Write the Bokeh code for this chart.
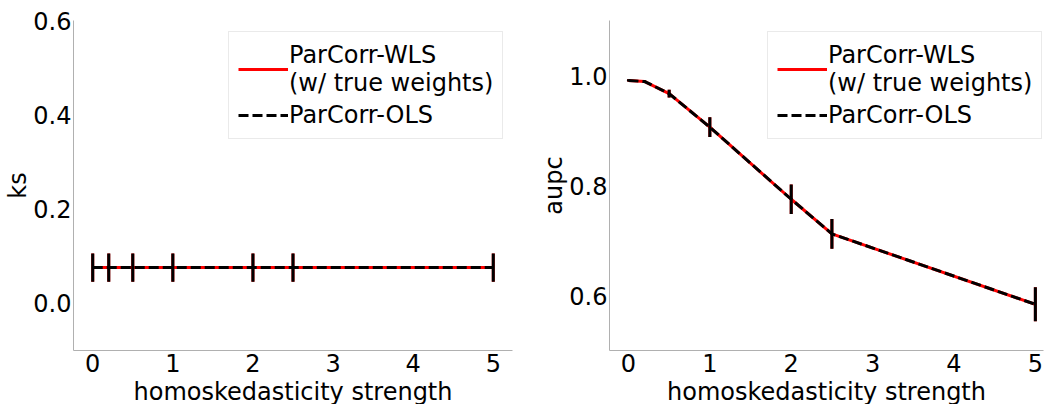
from bokeh.plotting import figure
from bokeh.models import ColumnDataSource, Range1d, FixedTicker, NumeralTickFormatter, Legend, LegendItem
from bokeh.layouts import row
from bokeh.embed import file_html
from bokeh.resources import INLINE

# ---- data ----
strength = [0, 0.2, 0.5, 1, 2, 2.5, 5]

ks_wls = [0.076, 0.076, 0.076, 0.076, 0.076, 0.076, 0.076]
ks_wls_err = [0.03, 0.03, 0.03, 0.03, 0.03, 0.03, 0.03]
ks_ols = [0.076, 0.076, 0.076, 0.076, 0.076, 0.076, 0.076]
ks_ols_err = [0.03, 0.03, 0.03, 0.03, 0.03, 0.03, 0.03]

aupc_wls = [0.991, 0.989, 0.967, 0.906, 0.775, 0.712, 0.584]
aupc_wls_err = [0.002, 0.002, 0.007, 0.018, 0.027, 0.027, 0.031]
aupc_ols = [0.991, 0.989, 0.967, 0.906, 0.775, 0.712, 0.584]
aupc_ols_err = [0.002, 0.002, 0.007, 0.018, 0.027, 0.027, 0.031]

x_ticks = [0, 1, 2, 3, 4, 5]
ks_ticks = [0.0, 0.2, 0.4, 0.6]
aupc_ticks = [0.6, 0.8, 1.0]

x_label = "homoskedasticity strength"
wls_label = "ParCorr-WLS\n(w/ true weights)"
ols_label = "ParCorr-OLS"

FONT = "DejaVu Sans"
FS = "24px"


def src(vals, errs):
    return ColumnDataSource(dict(
        x=strength, y=vals,
        lo=[v - e for v, e in zip(vals, errs)],
        hi=[v + e for v, e in zip(vals, errs)],
    ))


def panel(ylabel, wls, wls_err, ols, ols_err, yticks, xr, yr,
          border_left, frame_w, border_right, legend_loc):
    p = figure(frame_width=frame_w, frame_height=330,
               min_border_left=border_left, min_border_right=border_right,
               min_border_top=20, min_border_bottom=52,
               x_range=Range1d(*xr), y_range=Range1d(*yr),
               output_backend="svg", toolbar_location=None)
    p.outline_line_color = None
    p.grid.visible = False
    p.background_fill_color = "white"
    p.border_fill_color = "white"

    for ax in (p.xaxis[0], p.yaxis[0]):
        ax.axis_line_color = "#b0b0b0"
        ax.axis_line_width = 1
        ax.major_tick_line_color = None
        ax.minor_tick_line_color = None
        ax.major_tick_out = 0
        ax.major_tick_in = 0
        ax.minor_tick_out = 0
        ax.minor_tick_in = 0
        ax.major_label_text_font = FONT
        ax.major_label_text_font_size = FS
        ax.major_label_text_color = "black"
        ax.axis_label_text_font = FONT
        ax.axis_label_text_font_size = FS
        ax.axis_label_text_font_style = "normal"
        ax.axis_label_text_color = "black"
    p.xaxis[0].major_label_standoff = 3
    p.xaxis[0].axis_label_standoff = 3
    p.yaxis[0].major_label_standoff = 2
    p.yaxis[0].axis_label_standoff = -2

    p.xaxis[0].ticker = FixedTicker(ticks=x_ticks)
    p.yaxis[0].ticker = FixedTicker(ticks=yticks)
    p.yaxis[0].formatter = NumeralTickFormatter(format="0.0")
    p.xaxis[0].axis_label = x_label
    p.yaxis[0].axis_label = ylabel

    s_w = src(wls, wls_err)
    s_o = src(ols, ols_err)

    r_red = p.line("x", "y", source=s_w, line_color="red", line_width=3)
    p.segment(x0="x", y0="lo", x1="x", y1="hi", source=s_w, line_color="red", line_width=3)
    r_blk = p.line("x", "y", source=s_o, line_color="black", line_width=3, line_dash="10 4")
    p.segment(x0="x", y0="lo", x1="x", y1="hi", source=s_o, line_color="black", line_width=3)

    legend = Legend(items=[LegendItem(label=wls_label, renderers=[r_red]),
                           LegendItem(label=ols_label, renderers=[r_blk])],
                    location=legend_loc, margin=0)
    legend.label_text_font = FONT
    legend.label_text_font_size = FS
    legend.label_text_color = "black"
    legend.glyph_width = 50
    legend.label_standoff = 1
    legend.padding = 9
    legend.spacing = 4
    legend.border_line_color = "#d6d6d6"
    legend.border_line_width = 1
    legend.background_fill_alpha = 0.8
    p.add_layout(legend)
    return p


p1 = panel("ks", ks_wls, ks_wls_err, ks_ols, ks_ols_err, ks_ticks,
           (-0.24, 5.24), (-0.1, 0.6), 73, 439, 18, (155, 211))
p2 = panel("aupc", aupc_wls, aupc_wls_err, aupc_ols, aupc_ols_err, aupc_ticks,
           (-0.233, 5.1), (0.5, 1.1), 79, 434, 2, (158, 211))

layout = row(p1, p2)
open("out.html", "w").write(file_html(layout, INLINE))
